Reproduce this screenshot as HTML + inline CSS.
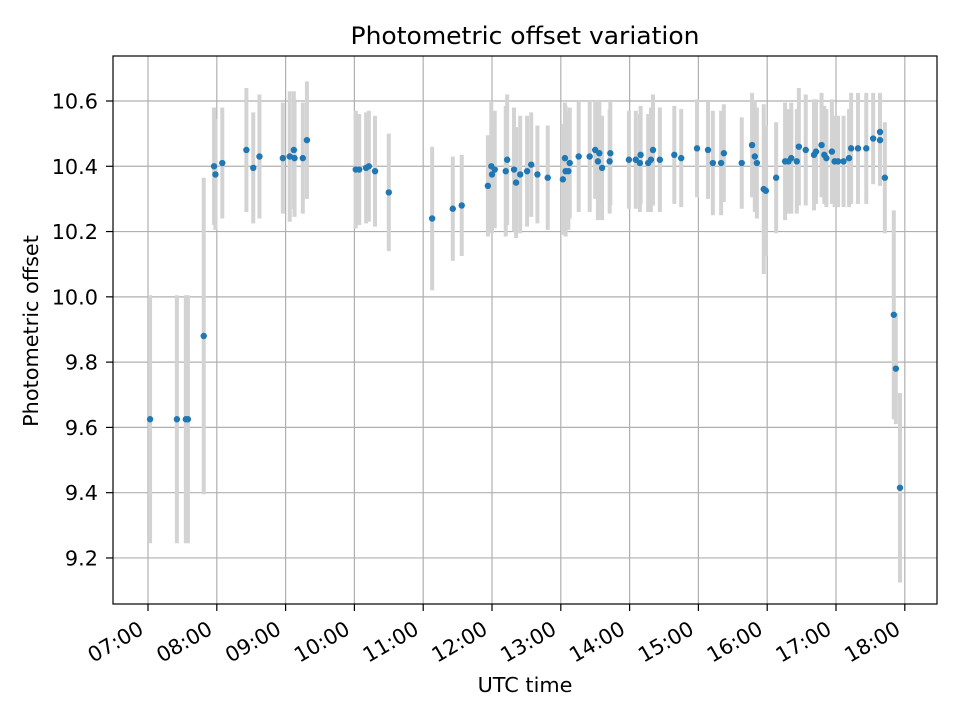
<!DOCTYPE html>
<html><head><meta charset="utf-8"><style>
html,body{margin:0;padding:0;background:#fff;}
svg{display:block;font-family:"DejaVu Sans","Liberation Sans",sans-serif;}
</style></head><body>
<svg id="chart" width="960" height="720" viewBox="0 0 960 720" xmlns="http://www.w3.org/2000/svg">
<rect width="960" height="720" fill="#fff"/>
<g id="grid"></g>
<g id="bars"></g>
<g id="pts"></g>
<rect x="113" y="56" width="824" height="548" fill="none" stroke="#000" stroke-width="1.2"/>
<g id="ticks"></g>
<text x="525" y="44" font-size="24" text-anchor="middle" textLength="349" lengthAdjust="spacingAndGlyphs">Photometric offset variation</text>
<text x="525" y="692" font-size="20.8" text-anchor="middle">UTC time</text>
<text x="38" y="331" font-size="20.8" text-anchor="middle" transform="rotate(-90 38 331)">Photometric offset</text>
</svg>
<script>
const times=[7.03,7.42,7.55,7.58,7.81,7.96,7.98,8.08,8.43,8.53,8.62,8.96,9.06,9.12,9.13,9.25,9.31,10.02,10.07,10.17,10.21,10.30,10.50,11.13,11.43,11.56,11.94,11.99,12.00,12.04,12.20,12.22,12.32,12.35,12.41,12.51,12.57,12.66,12.81,13.03,13.06,13.07,13.11,13.13,13.26,13.42,13.50,13.54,13.56,13.60,13.71,13.72,13.99,14.09,14.15,14.16,14.27,14.31,14.34,14.44,14.65,14.75,14.98,15.14,15.21,15.33,15.37,15.63,15.78,15.82,15.85,15.95,15.98,16.13,16.26,16.31,16.35,16.43,16.46,16.56,16.68,16.71,16.79,16.83,16.86,16.94,16.98,17.03,17.11,17.19,17.22,17.32,17.44,17.54,17.64,17.64,17.71,17.84,17.87,17.93];
const values=[9.625,9.625,9.625,9.625,9.88,10.40,10.375,10.41,10.45,10.395,10.43,10.425,10.43,10.45,10.425,10.425,10.48,10.39,10.39,10.395,10.40,10.385,10.32,10.24,10.27,10.28,10.34,10.40,10.375,10.39,10.385,10.42,10.39,10.35,10.375,10.385,10.405,10.375,10.365,10.36,10.425,10.385,10.385,10.41,10.43,10.43,10.45,10.415,10.44,10.395,10.415,10.44,10.42,10.42,10.41,10.435,10.41,10.42,10.45,10.42,10.435,10.425,10.455,10.45,10.41,10.41,10.44,10.41,10.465,10.43,10.41,10.33,10.325,10.365,10.415,10.415,10.425,10.415,10.46,10.45,10.435,10.445,10.465,10.435,10.425,10.445,10.415,10.415,10.415,10.425,10.455,10.455,10.455,10.485,10.505,10.48,10.365,9.945,9.78,9.415];
const errs=[.38,.38,.38,.38,.485,.18,.17,.17,.19,.17,.19,.17,.2,.18,.18,.17,.18,.18,.17,.17,.17,.17,.18,.22,.16,.155,.155,.2,.18,.18,.2,.2,.19,.17,.18,.17,.16,.15,.16,.17,.17,.2,.18,.17,.17,.17,.15,.18,.16,.16,.16,.16,.15,.15,.15,.15,.15,.16,.17,.16,.15,.15,.15,.15,.16,.16,.15,.14,.16,.17,.17,.26,.2,.17,.18,.16,.17,.16,.18,.17,.17,.16,.16,.15,.15,.16,.14,.14,.14,.15,.17,.17,.17,.14,.12,.14,.17,.32,.17,.29];
const yTicks=[9.2,9.4,9.6,9.8,10.0,10.2,10.4,10.6];
const xTicks=[7,8,9,10,11,12,13,14,15,16,17,18];
const xTickLabels=["07:00","08:00","09:00","10:00","11:00","12:00","13:00","14:00","15:00","16:00","17:00","18:00"];
const NS="http://www.w3.org/2000/svg";
const X=h=>148+(h-7)*68.8;
const Y=v=>101+(10.6-v)*326.4;
function mk(tag,attrs,parent){const e=document.createElementNS(NS,tag);for(const k in attrs)e.setAttribute(k,attrs[k]);parent.appendChild(e);return e;}
const grid=document.getElementById('grid'),ticks=document.getElementById('ticks'),bars=document.getElementById('bars'),pts=document.getElementById('pts');
yTicks.forEach(v=>{
  const y=Y(v);
  const g=mk('line',{x1:113,x2:937,y1:y,y2:y,stroke:'#b0b0b0','stroke-width':1.2},grid);
  
  
  const t=mk('line',{x1:106,x2:113,y1:y,y2:y,stroke:'#000','stroke-width':1.2},ticks);
  
  
  const l=mk('text',{x:98,y:y+7.5,'font-size':20.8,'text-anchor':'end'},ticks);
  
  
  l.textContent=v.toFixed(1);
});
xTicks.forEach((h,i)=>{
  const x=X(h);
  const g=mk('line',{x1:x,x2:x,y1:56,y2:604,stroke:'#b0b0b0','stroke-width':1.2},grid);
  
  
  const t=mk('line',{x1:x,x2:x,y1:604,y2:611,stroke:'#000','stroke-width':1.2},ticks);
  
  
  const ax=x-3, ay=633;
  const l=mk('text',{x:ax,y:ay,'font-size':20.8,'text-anchor':'end',transform:`rotate(-30 ${ax} ${ay})`},ticks);
  
  
  l.textContent=xTickLabels[i];
});
times.forEach((h,i)=>{
  const x=X(h);
  const b=mk('line',{x1:x,x2:x,y1:Y(values[i]+errs[i]),y2:Y(values[i]-errs[i]),stroke:'#d3d3d3','stroke-width':4},bars);
  
  
  const c=mk('circle',{cx:x,cy:Y(values[i]),r:3.2,fill:'#1f77b4'},pts);
  
  
});
</script>
</body></html>
